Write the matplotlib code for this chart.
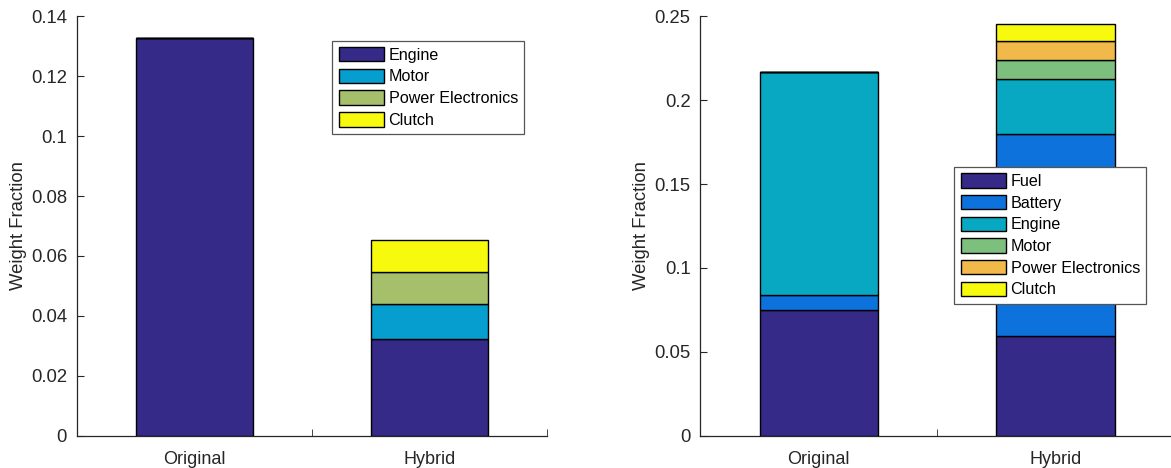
import numpy as np
import matplotlib.pyplot as plt

plt.rcParams["font.family"] = ["Liberation Sans", "DejaVu Sans"]

# Categories on the x axis
configs = ["Original", "Hybrid"]

# Left panel: drivetrain components only
left_parts = ["Engine", "Motor", "Power Electronics", "Clutch"]
left_engine = [0.1327, 0.0323]
left_motor = [0.0, 0.0117]
left_power = [0.0, 0.0107]
left_clutch = [0.0, 0.0106]
left_colors = ["#352A87", "#069DCF", "#A6BF6B", "#F8FA0D"]

# Right panel: drivetrain plus energy storage
right_parts = ["Fuel", "Battery", "Engine", "Motor", "Power Electronics", "Clutch"]
right_fuel = [0.0750, 0.0596]
right_battery = [0.0087, 0.1204]
right_engine = [0.1329, 0.0326]
right_motor = [0.0, 0.0115]
right_power = [0.0, 0.0110]
right_clutch = [0.0, 0.0103]
right_colors = ["#352A87", "#0E72DC", "#08A8C3", "#7DBF7D", "#F1B84A", "#F8FA0D"]

grey = "#262626"
W, H = 1171, 468
fig = plt.figure(figsize=(W / 100, H / 100), dpi=100)


def stacked(ax, series, labels, colors, ymax, yticks, ticklabels, leg_anchor):
    x = np.arange(1, len(configs) + 1)
    bottom = np.zeros(len(configs))
    for vals, lab, col in zip(series, labels, colors):
        vals = np.array(vals)
        ax.bar(x, vals, width=0.5, bottom=bottom, color=col, edgecolor="black",
               linewidth=1.0, label=lab)
        bottom += vals
    ax.set_xlim(0.5, 2.5)
    ax.set_ylim(0, ymax)
    ax.set_xticks(x)
    ax.set_xticklabels(configs)
    ax.set_xticks([1.5, 2.5], minor=True)
    ax.tick_params(axis="x", which="major", length=0, pad=11, labelsize=13,
                   colors=grey)
    ax.tick_params(axis="x", which="minor", length=5, direction="in", color=grey)
    ax.set_yticks(yticks)
    ax.set_yticklabels(ticklabels)
    ax.tick_params(axis="y", direction="in", length=5, pad=7, labelsize=13.3,
                   colors=grey)
    ax.set_ylabel("Weight Fraction", fontsize=13.3, color=grey, labelpad=3)
    for side in ["top", "right"]:
        ax.spines[side].set_visible(False)
    for side in ["left", "bottom"]:
        ax.spines[side].set_color(grey)
        ax.spines[side].set_linewidth(0.9)
    leg = ax.legend(loc="upper left", bbox_to_anchor=leg_anchor, fontsize=11.6,
                    handlelength=2.8, handleheight=1.0, handletextpad=0.3,
                    labelspacing=0.37, borderpad=0.4, borderaxespad=0,
                    fancybox=False, framealpha=1)
    leg.get_frame().set_edgecolor("#555555")
    leg.get_frame().set_linewidth(0.9)


ax1 = fig.add_axes([76.8 / W, 32.3 / H, 470.4 / W, 419.4 / H])
stacked(ax1, [left_engine, left_motor, left_power, left_clutch], left_parts,
        left_colors, 0.14, np.arange(0, 0.141, 0.02),
        ["0", "0.02", "0.04", "0.06", "0.08", "0.1", "0.12", "0.14"],
        (0.543, 0.942))

ax2 = fig.add_axes([700.3 / W, 32.3 / H, 473.7 / W, 419.4 / H])
stacked(ax2, [right_fuel, right_battery, right_engine, right_motor, right_power,
              right_clutch], right_parts, right_colors, 0.25,
        np.arange(0, 0.251, 0.05), ["0", "0.05", "0.1", "0.15", "0.2", "0.25"],
        (0.536, 0.641))

fig.savefig("out.png", dpi=100)
